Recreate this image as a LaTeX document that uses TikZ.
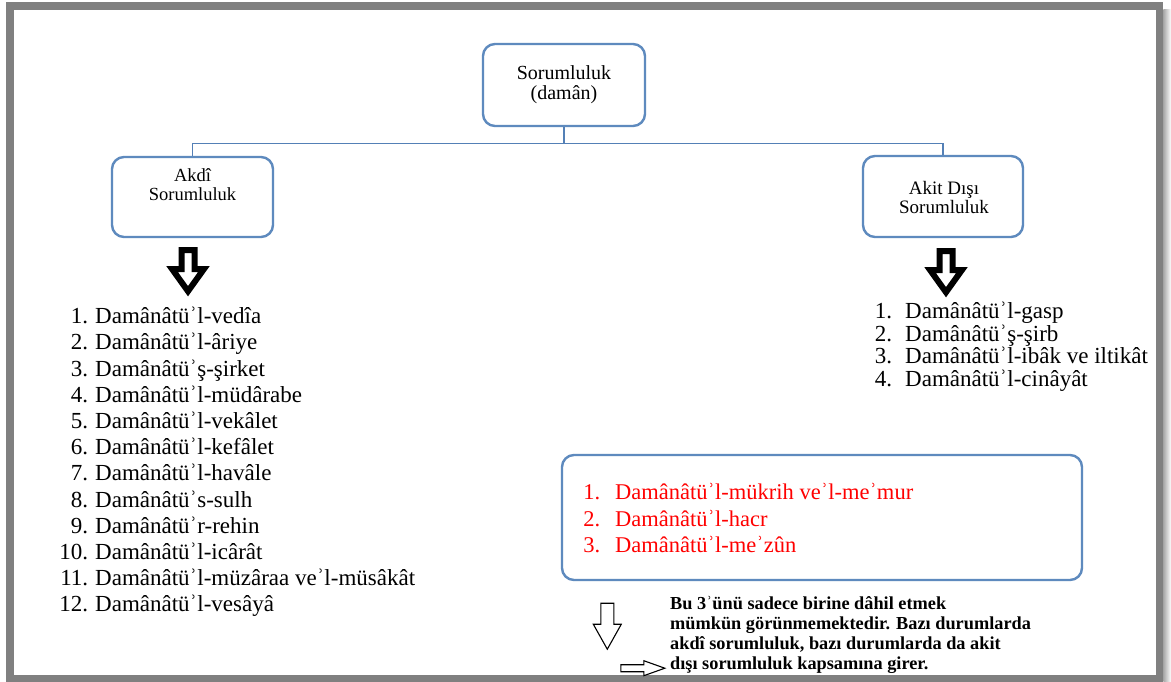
\documentclass[tikz,border=0pt]{standalone}
\usepackage{fontspec}
\setmainfont{Liberation Serif}
\definecolor{boxblue}{RGB}{94,138,190}
\definecolor{linkblue}{RGB}{84,128,182}
\definecolor{framegray}{RGB}{128,128,128}
% numbered line: right-aligned number, gap, text
\newcommand\enumline[3]{\makebox[30pt][r]{#1}\hspace{#2}#3}
\tikzset{
  box/.style={draw=boxblue, line width=2.4pt, rounded corners=12pt, fill=white, inner sep=0pt},
  conn/.style={draw=linkblue, line width=1.4pt},
  boxtext/.style={anchor=base, inner sep=0pt, font=\fontsize{20}{20}\selectfont},
  item/.style={anchor=base west, inner sep=0pt, font=\fontsize{23}{26}\selectfont},
  reditem/.style={item, text=red, font=\fontsize{22.5}{26}\selectfont},
  note/.style={anchor=base west, inner sep=0pt, font=\fontsize{18.3}{20}\selectfont\bfseries},
  bigarrow/.style={draw=black, line width=6pt, fill=white, line join=miter},
  thinarrow/.style={draw=black, line width=1.1pt, fill=white, line join=miter},
  pics/blockdown/.style={code={\draw[bigarrow] (-6.5,0) -- (6.5,0) -- (6.5,19) -- (15.8,19) -- (0,41) -- (-15.8,19) -- (-6.5,19) -- cycle;}},
  pics/hollowdown/.style={code={\draw[thinarrow] (-6.5,0) -- (6.5,0) -- (6.5,21) -- (14,21) -- (0,46) -- (-14,21) -- (-6.5,21) -- cycle;}},
  pics/hollowright/.style={code={\draw[thinarrow] (0,-3.5) -- (23,-3.5) -- (23,-7.5) -- (44,0) -- (23,7.5) -- (23,3.5) -- (0,3.5) -- cycle;}},
}
\begin{document}
\begin{tikzpicture}[x=1pt, y=-1pt]
\useasboundingbox (0,0) rectangle (1171,681);
\fill[white] (0,0) rectangle (1171,681);

% page frame with a soft shadow on the right
\shade[left color=framegray!70, right color=white] (1163.25,9) rectangle (1171,681);
\draw[framegray, line width=7.5pt] (9.75,5.75) rectangle (1159.5,678.5);

% boxes
\node[box, minimum width=162pt, minimum height=82pt] (top) at (564,85) {};
\node[box, minimum width=161pt, minimum height=80pt] (akdi) at (192.5,197) {};
\node[box, minimum width=160pt, minimum height=81pt] (akit) at (943,196.5) {};
\node[box, minimum width=520pt, minimum height=125pt] (red) at (822,517.5) {};

% box captions
\node[boxtext] (topA) at (564,79.5) {Sorumluluk};
\node[boxtext] (topB) at (564,99.5) {(damân)};
\node[boxtext, font=\fontsize{18.5}{20}\selectfont] (akdiA) at (192.5,181.5) {Akdî};
\node[boxtext, font=\fontsize{18.5}{20}\selectfont] (akdiB) at (192.5,200.5) {Sorumluluk};
\node[boxtext, font=\fontsize{19}{20}\selectfont] (akitA) at (944,194.5) {Akit Dışı};
\node[boxtext, font=\fontsize{19}{20}\selectfont] (akitB) at (944,213.5) {Sorumluluk};

% tree connectors
\draw[conn] (top.south) -- ++(0,16) -| (akdi.north);
\draw[conn] (top.south) -- ++(0,16) -| (akit.north);

% block arrows under the two branches
\path (akdi.south) ++(-4.5,12) pic {blockdown};
\path (akit.south) ++(3,13) pic {blockdown};

% contractual liability list
\node[item] (l1)  at (58,323.6) {\enumline{1.}{7pt}{Damânâtüʾl-vedîa}};
\node[item] (l2)  at (58,349.8) {\enumline{2.}{7pt}{Damânâtüʾl-âriye}};
\node[item] (l3)  at (58,376.0) {\enumline{3.}{7pt}{Damânâtüʾş-şirket}};
\node[item] (l4)  at (58,402.2) {\enumline{4.}{7pt}{Damânâtüʾl-müdârabe}};
\node[item] (l5)  at (58,428.4) {\enumline{5.}{7pt}{Damânâtüʾl-vekâlet}};
\node[item] (l6)  at (58,454.6) {\enumline{6.}{7pt}{Damânâtüʾl-kefâlet}};
\node[item] (l7)  at (58,480.8) {\enumline{7.}{7pt}{Damânâtüʾl-havâle}};
\node[item] (l8)  at (58,507.0) {\enumline{8.}{7pt}{Damânâtüʾs-sulh}};
\node[item] (l9)  at (58,533.2) {\enumline{9.}{7pt}{Damânâtüʾr-rehin}};
\node[item] (l10) at (58,559.4) {\enumline{10.}{7pt}{Damânâtüʾl-icârât}};
\node[item] (l11) at (58,585.6) {\enumline{11.}{7pt}{Damânâtüʾl-müzâraa veʾl-müsâkât}};
\node[item] (l12) at (58,611.8) {\enumline{12.}{7pt}{Damânâtüʾl-vesâyâ}};

% non-contractual liability list
\node[item] (r1) at (862,318.6) {\enumline{1.}{13pt}{Damânâtüʾl-gasp}};
\node[item] (r2) at (862,341.1) {\enumline{2.}{13pt}{Damânâtüʾş-şirb}};
\node[item] (r3) at (862,363.6) {\enumline{3.}{13pt}{Damânâtüʾl-ibâk ve iltikât}};
\node[item] (r4) at (862,386.1) {\enumline{4.}{13pt}{Damânâtüʾl-cinâyât}};

% mixed cases
\node[reditem] (m1) at (570,499.6) {\enumline{1.}{15pt}{Damânâtüʾl-mükrih veʾl-meʾmur}};
\node[reditem] (m2) at (570,526.1) {\enumline{2.}{15pt}{Damânâtüʾl-hacr}};
\node[reditem] (m3) at (570,552.6) {\enumline{3.}{15pt}{Damânâtüʾl-meʾzûn}};

% note with its two hollow arrows
\path (red.south west) ++(46.5,22) pic {hollowdown};
\path (red.south west) ++(60,87) pic {hollowright};
\node[note] (n1) at (670,609.7) {Bu 3ʾünü sadece birine dâhil etmek};
\node[note] (n2) at (670,629.7) {mümkün görünmemektedir. Bazı durumlarda};
\node[note] (n3) at (670,649.7) {akdî sorumluluk, bazı durumlarda da akit};
\node[note] (n4) at (670,669.7) {dışı sorumluluk kapsamına girer.};
\end{tikzpicture}
\end{document}
